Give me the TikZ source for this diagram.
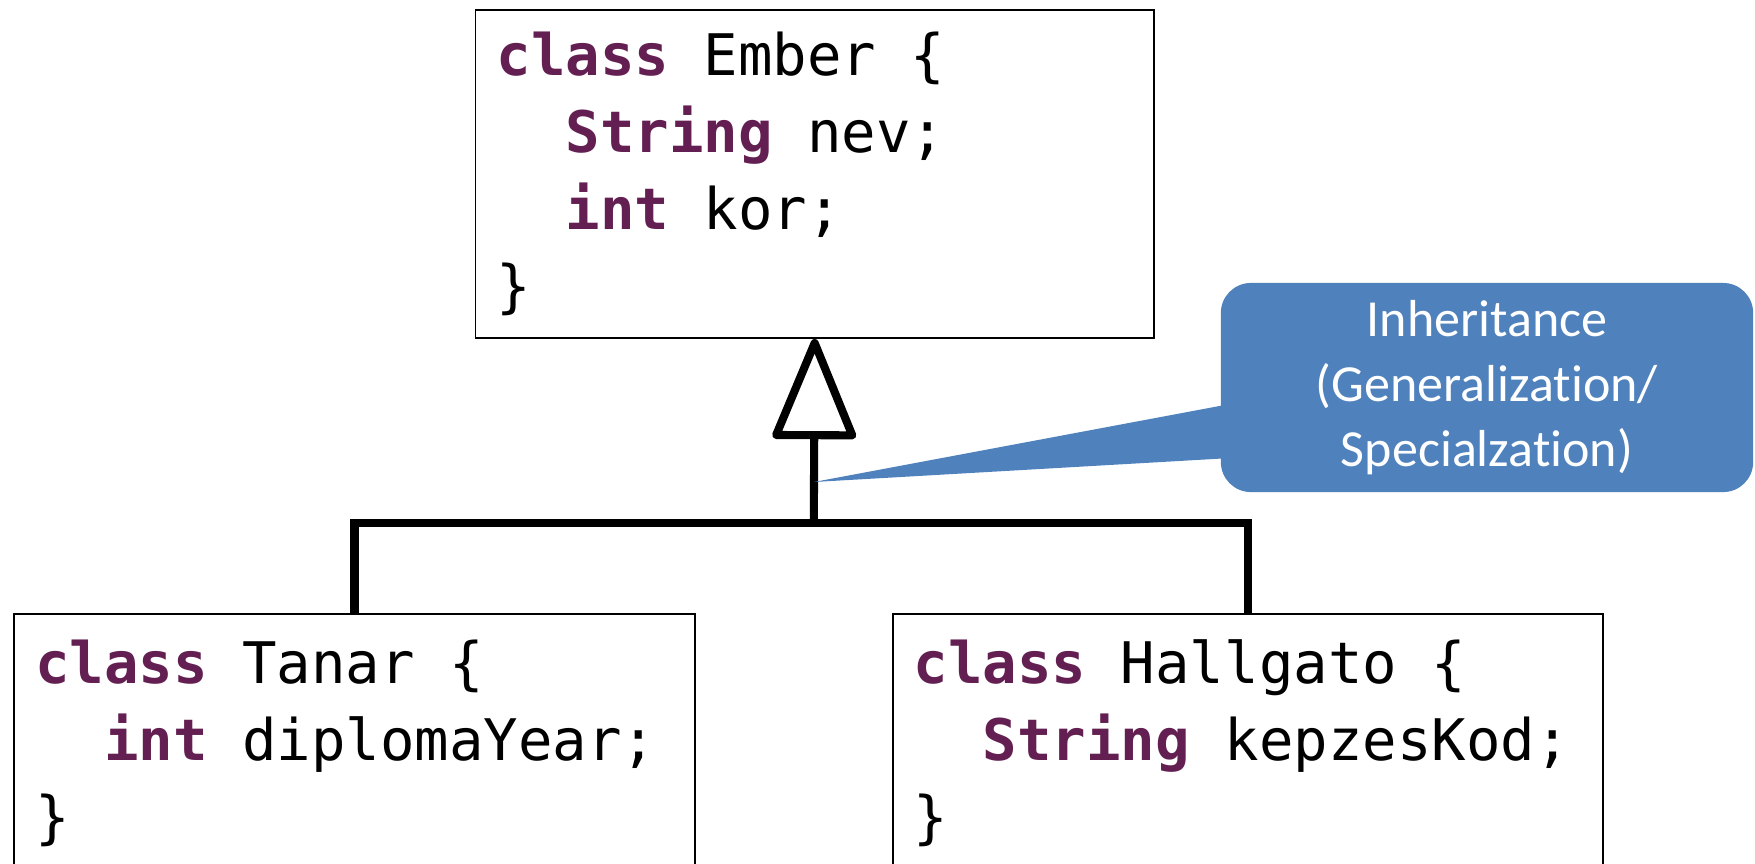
\documentclass[tikz,border=0pt]{standalone}
\usepackage{fontspec}
\usepackage{xcolor}
\usetikzlibrary{positioning,arrows.meta,calc}
\newfontfamily\codefont{DejaVu Sans Mono}
\newfontfamily\notefont[Ligatures=NoCommon]{Carlito}
\definecolor{keypurple}{RGB}{99,31,81}
\definecolor{noteblue}{RGB}{79,129,189}
\newcommand{\kw}[1]{{\bfseries\color{keypurple}#1}}
\newcommand{\sk}{\hphantom{x}}
\newcommand{\ind}{\hphantom{xx}}
\newcommand{\codesize}{\codefont\fontsize{16.3}{21.9}\selectfont}

\begin{document}
\begin{tikzpicture}[
  x=0.01cm,y=-0.01cm,
  classbox/.style={draw,line width=0.5pt,anchor=north west,inner xsep=0.21cm,inner ysep=0pt,align=left,font=\codesize},
  conn/.style={line width=2.3pt,black},
  gen/.style={conn,-{Triangle[open,round,length=1.07cm,width=0.86cm]}},
  note/.style={fill=noteblue,rounded corners=0.3cm,text=white,align=center,minimum width=5.32cm,minimum height=2.09cm,inner sep=0pt,font=\notefont\fontsize{14.8}{18.4}\selectfont}
]
\useasboundingbox (0,0) rectangle (1755,863);

% TOP: superclass
\node[classbox,text width=6.36cm,minimum height=3.28cm] (ember) at (474.6,9)
  {\kw{class}\sk Ember\sk\{\\ \ind\kw{String}\sk nev;\\ \ind\kw{int}\sk kor;\\ \}};

% BOTTOM: the two subclasses
\node[classbox,text width=6.38cm,minimum height=2.58cm] (tanar) at (13.4,613)
  {\kw{class}\sk Tanar\sk\{\\ \ind\kw{int}\sk diplomaYear;\\ \}};
\node[classbox,text width=6.68cm,minimum height=2.58cm] (hallgato) at (892,613)
  {\kw{class}\sk Hallgato\sk\{\\ \ind\kw{String}\sk kepzesKod;\\ \}};

% inheritance tree
\coordinate (split) at (813.8,523);
\draw[conn] (tanar.north) |- (split) -| (hallgato.north);
\draw[gen] (split) -- (ember.south);

% callout
\coordinate (tip) at (813.8,482);
\node[note] (remark) at (1487,387.5) {Inheritance\\(Generalization/\\Specialzation)};
\fill[noteblue] (tip) -- ($(remark.west)+(2,18)$) -- ($(remark.west)+(2,71)$) -- cycle;

\end{tikzpicture}
\end{document}
